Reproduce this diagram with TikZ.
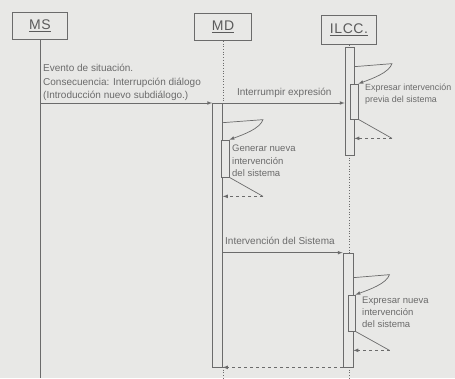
\documentclass[tikz,border=0pt]{standalone}
\usepackage{fontspec}
\setmainfont{Liberation Sans}
\newfontfamily\boxfont[LetterSpace=4]{Liberation Sans}
\usetikzlibrary{calc}
\definecolor{paper}{HTML}{E8E8E6}
\definecolor{ink}{HTML}{6B6B6B}

\begin{document}
\begin{tikzpicture}[x=1pt,y=-1pt,
        actor/.style={draw=ink,line width=.8pt,minimum width=55pt,minimum height=27pt,
            font=\boxfont\fontsize{14}{14}\selectfont,text=ink!85!black},
        bar/.style={draw=ink,fill=paper,line width=.7pt,minimum width=10pt,inner sep=0pt},
        life/.style={draw=ink,dotted,line width=.7pt},
        msg/.style={draw=ink,line width=.7pt,-latex},
        txt/.style={text=ink,align=left,inner sep=0pt,anchor=north west,
            font=\fontsize{10}{13.5}\selectfont},
        small/.style={font=\fontsize{9.5}{12}\selectfont}]

            \fill [paper] (0,0) rectangle (455,378);
            \useasboundingbox (0,0) rectangle (455,378);

            \node (ms) at (40,26) [actor] {\underline{MS}};
            \node (md) at (223,27) [actor, minimum width=57pt] {\underline{MD}};
            \node (ilcc) at (349,30) [actor, minimum height=29pt] {\underline{ILCC.}};
            \coordinate (bottom) at (0,378);

            % lifelines
            \draw [ink, line width=.7pt] (ms.south) -- (ms.south |- bottom);
            \draw [life] (md.south) -- (md.south |- 0,103);
            \draw [life] (md.south |- 0,367) -- (md.south |- bottom);
            \draw [life] (ilcc.south) -- (ilcc.south |- 0,47);
            \draw [life] (ilcc.south |- 0,155) -- (ilcc.south |- 0,253);
            \draw [life] (ilcc.south |- 0,367) -- (ilcc.south |- bottom);

            % activations
            \node (mdbar) at (217.5,235) [bar, minimum height=264pt] {};
            \node (ilccA) at (349.5,101) [bar, minimum width=9pt, minimum height=108pt] {};
            \node (ilccB) at (348,310) [bar, minimum height=114pt] {};
            \node (mdsub) at (225,158.5) [bar, minimum width=8pt, minimum height=37pt] {};
            \node (ilccAsub) at (354,101.5) [bar, minimum width=8pt, minimum height=35pt] {};
            \node (ilccBsub) at (351.5,313) [bar, minimum width=7pt, minimum height=36pt] {};

            % messages
            \coordinate (m1) at (0,103);
            \draw [msg] (ms.south |- m1) -- (mdbar.west |- m1);
            \draw [msg] (mdbar.east |- m1) -- (ilccA.west |- m1);
            \draw [msg] (mdbar.east |- ilccB.north) -- (ilccB.north west);
            \draw [msg, dashed] (ilccB.south west) -- (mdbar.east |- ilccB.south);

            \foreach \b/\s in {mdbar/mdsub, ilccA/ilccAsub, ilccB/ilccBsub}
                {
                    \coordinate (top) at ($(\s.north)+(0,-17)$);
                    \coordinate (call) at ($(\s.north)+(38,-20)$);
                    \coordinate (back) at ($(\s.south)+(38,19)$);
                    \draw [msg] (\b.east |- top) -- (call)
                        .. controls ($(call)+(-3,9)$) and ($(\s.north east)+(14,-5)$) .. (\s.north east);
                    \draw [ink, line width=.7pt] (\s.south east) -- (back);
                    \draw [msg, dashed] (back) -- (\b.east |- back);
                }

            \node (evento) at (43,64) [txt] {Evento de situación.\\Consecuencia: Interrupción diálogo\\(Introducción nuevo subdiálogo.)};
            \node (interrumpir) at ($(mdbar.east |- m1)+(14,-15)$) [txt] {Interrumpir expresión};
            \node (previa) at (365,84) [txt, font=\fontsize{8.9}{12}\selectfont] {Expresar intervención\\previa del sistema};
            \node (generar) at (232,145) [txt, font=\fontsize{9.5}{12.5}\selectfont] {Generar nueva\\intervención\\del sistema};
            \node (intervencion) at (225,237) [txt] {Intervención del Sistema};
            \node (nueva) at (362,297) [txt, small] {Expresar nueva\\intervención\\del sistema};

        \end{tikzpicture}
\end{document}
